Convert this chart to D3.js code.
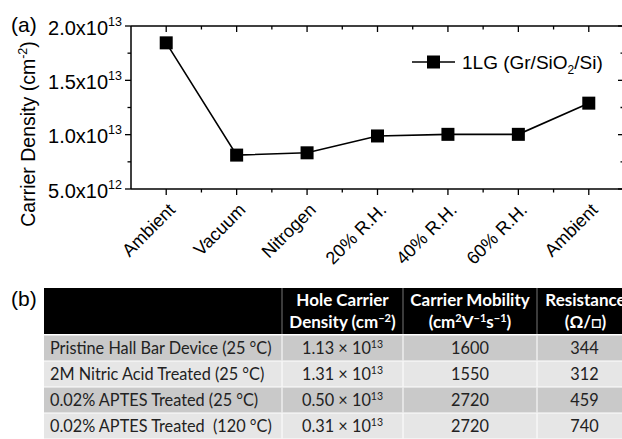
<!DOCTYPE html>
<html><head><meta charset="utf-8">
<script src="https://cdn.jsdelivr.net/npm/d3@7"></script>
<style>
html,body{margin:0;padding:0;background:#fff;}
svg{display:block;}
</style></head>
<body>
<svg id="chart" width="622" height="439"></svg>
<script>
// ---------- data ----------
const conditions = ["Ambient","Vacuum","Nitrogen","20% R.H.","40% R.H.","60% R.H.","Ambient"];
const density = [1.845e13, 0.812e13, 0.833e13, 0.988e13, 1.003e13, 1.003e13, 1.29e13];
const yTickValues = [5e12, 1e13, 1.5e13, 2e13];
const yTickMantissa = ["5.0","1.0","1.5","2.0"];
const yTickExp = ["12","13","13","13"];
const seriesName = "1LG";

const tableSamples = ["Pristine Hall Bar Device (25 °C)","2M Nitric Acid Treated (25 °C)","0.02% APTES Treated (25 °C)","0.02% APTES Treated  (120 °C)"];
const tableHoleDensity = ["1.13","1.31","0.50","0.31"];
const tableMobility = ["1600","1550","2720","2720"];
const tableResistance = ["344","312","459","740"];

// ---------- chart ----------
const svg = d3.select("#chart");
const axisFont = "Liberation Sans, Arial, sans-serif";
const m = {left:131, right:624, top:26, bottom:189};

const idx = conditions.map((d,i)=>i);
const x = d3.scaleLinear().domain([-0.5, conditions.length-0.5]).range([m.left, m.right]);
const y = d3.scaleLinear().domain([5e12, 2e13]).range([m.bottom, m.top]);

const g = svg.append("g");

// frame lines
g.append("line").attr("x1",m.left).attr("x2",m.right).attr("y1",m.bottom).attr("y2",m.bottom).attr("stroke","#000").attr("stroke-width",1.5);
g.append("line").attr("x1",m.left).attr("x2",m.right).attr("y1",m.top).attr("y2",m.top).attr("stroke","#000").attr("stroke-width",1.3);
g.append("line").attr("x1",m.left).attr("x2",m.left).attr("y1",m.top).attr("y2",m.bottom).attr("stroke","#000").attr("stroke-width",1.5);
g.append("line").attr("x1",m.right).attr("x2",m.right).attr("y1",m.top).attr("y2",m.bottom).attr("stroke","#000").attr("stroke-width",1.3);

// x ticks
const xMinor = d3.range(0, conditions.length-1).map(i=>i+0.5);
const tk = (x1,y1,x2,y2,w)=>g.append("line").attr("x1",x1).attr("y1",y1).attr("x2",x2).attr("y2",y2).attr("stroke","#000").attr("stroke-width",w||1.3);
idx.forEach(i=>{ tk(x(i),m.bottom,x(i),m.bottom+6); tk(x(i),m.top,x(i),m.top+6); });
xMinor.forEach(v=>{ tk(x(v),m.bottom,x(v),m.bottom+3.5); tk(x(v),m.top,x(v),m.top+3.5); });
// y ticks
const yMinor = [7.5e12, 1.25e13, 1.75e13];
yTickValues.forEach(v=>{ tk(m.left-6,y(v),m.left,y(v)); tk(m.right-6,y(v),m.right,y(v)); });
yMinor.forEach(v=>{ tk(m.left-3.5,y(v),m.left,y(v)); tk(m.right-3.5,y(v),m.right,y(v)); });

// y tick labels
yTickValues.forEach((v,i)=>{
  const t = g.append("text").attr("x",122).attr("y",y(v)+8.5).attr("text-anchor","end")
    .attr("font-family",axisFont).attr("font-size",20).attr("fill","#000");
  t.append("tspan").text(yTickMantissa[i]+"x10");
  t.append("tspan").attr("dy",-9).attr("font-size",12.5).text(yTickExp[i]);
});

// x tick labels
idx.forEach(i=>{
  g.append("text").attr("transform",`translate(${x(i)+10},${m.bottom+22}) rotate(-45)`)
    .attr("text-anchor","end").attr("font-family",axisFont).attr("font-size",18)
    .attr("fill","#000").text(conditions[i]);
});

// y title
const yt = g.append("text").attr("transform",`translate(35,134) rotate(-90)`).attr("text-anchor","middle")
  .attr("font-family",axisFont).attr("font-size",19.5).attr("fill","#000");
yt.append("tspan").text("Carrier Density (cm");
yt.append("tspan").attr("dy",-8).attr("font-size",12.5).text("-2");
yt.append("tspan").attr("dy",8).text(")");

// (a)
g.append("text").attr("x",11).attr("y",32).attr("font-family",axisFont).attr("font-size",21).text("(a)");

// line + markers
const line = d3.line().x((d,i)=>x(i)).y(d=>y(d));
g.append("path").datum(density).attr("d",line).attr("fill","none").attr("stroke","#000").attr("stroke-width",1.6);
g.selectAll("rect.mk").data(density).join("rect").attr("class","mk")
  .attr("x",(d,i)=>x(i)-6.5).attr("y",d=>y(d)-6.5).attr("width",13).attr("height",13).attr("fill","#000");

// legend
const ly = 62;
g.append("line").attr("x1",412).attr("x2",455).attr("y1",ly).attr("y2",ly).attr("stroke","#000").attr("stroke-width",1.6);
g.append("rect").attr("x",433.5-6.5).attr("y",ly-6.5).attr("width",13).attr("height",13).attr("fill","#000");
const lt = g.append("text").attr("x",462).attr("y",ly+7).attr("font-family",axisFont).attr("font-size",19).attr("fill","#000");
lt.append("tspan").text(seriesName+" (Gr/SiO");
lt.append("tspan").attr("dy",5).attr("font-size",12).text("2");
lt.append("tspan").attr("dy",-5).text("/Si)");

// ---------- table ----------
const tableFont = "Lato, 'Open Sans', sans-serif";
const colEdges = [44, 282, 403, 537, 634];
const headTop = 288, headBottom = 334, rowH = 26, rowTop = 335.5;
const rowFill = ["#c9c9c9","#e6e6e6","#c9c9c9","#e6e6e6"];
const cellFont = 16.3;

svg.append("text").attr("x",11).attr("y",306).attr("font-family",axisFont).attr("font-size",21).text("(b)");

const tg = svg.append("g");
tg.append("rect").attr("x",colEdges[0]).attr("y",headTop).attr("width",colEdges[4]-colEdges[0]).attr("height",headBottom-headTop).attr("fill","#000");
[1,2,3].forEach(c=>tg.append("line").attr("x1",colEdges[c]).attr("x2",colEdges[c]).attr("y1",headTop).attr("y2",headBottom).attr("stroke","#777").attr("stroke-width",1));

const headers = [
  null,
  [[["Hole Carrier"]],[["Density (cm"],["−2","sup"],[")"]]],
  [[["Carrier Mobility"]],[["(cm"],["2","sup"],["V"],["−1","sup"],["s"],["−1","sup"],[")"]]],
  [[["Resistance"]],[["(Ω/□)"]]]
];
headers.forEach((h,c)=>{
  if(!h) return;
  const cx = (colEdges[c]+colEdges[c+1])/2;
  h.forEach((lineParts,li)=>{
    const t = tg.append("text").attr("x",cx).attr("y",li===0?306:328).attr("text-anchor","middle")
      .attr("font-family",tableFont).attr("font-weight","bold").attr("font-size",17).attr("fill","#fff");
    lineParts.forEach(p=>{
      if(p[1]==="sup") t.append("tspan").attr("font-size",11).attr("baseline-shift","55%").text(p[0]);
      else t.append("tspan").text(p[0]);
    });
  });
});

tableSamples.forEach((s,r)=>{
  const y0 = rowTop + r*rowH;
  tg.append("rect").attr("x",colEdges[0]).attr("y",y0).attr("width",colEdges[4]-colEdges[0]).attr("height",rowH-1).attr("fill",rowFill[r]);
  [1,2,3].forEach(c=>tg.append("line").attr("x1",colEdges[c]).attr("x2",colEdges[c]).attr("y1",y0).attr("y2",y0+rowH-1).attr("stroke","#fff").attr("stroke-width",1));
  const ty = y0 + rowH/2 + 5.5;
  tg.append("text").attr("x",colEdges[0]+6).attr("y",ty).attr("font-family",tableFont).attr("font-size",cellFont)
    .attr("fill","#222").style("white-space","pre").attr("xml:space","preserve").text(s);
  const t2 = tg.append("text").attr("x",(colEdges[1]+colEdges[2])/2).attr("y",ty).attr("text-anchor","middle")
    .attr("font-family",tableFont).attr("font-size",cellFont).attr("fill","#222");
  t2.append("tspan").text(tableHoleDensity[r]+" × 10");
  t2.append("tspan").attr("font-size",10.5).attr("baseline-shift","55%").text("13");
  tg.append("text").attr("x",(colEdges[2]+colEdges[3])/2).attr("y",ty).attr("text-anchor","middle")
    .attr("font-family",tableFont).attr("font-size",cellFont).attr("fill","#222").text(tableMobility[r]);
  tg.append("text").attr("x",(colEdges[3]+colEdges[4])/2-1).attr("y",ty).attr("text-anchor","middle")
    .attr("font-family",tableFont).attr("font-size",cellFont).attr("fill","#222").text(tableResistance[r]);
});
</script>
</body></html>
